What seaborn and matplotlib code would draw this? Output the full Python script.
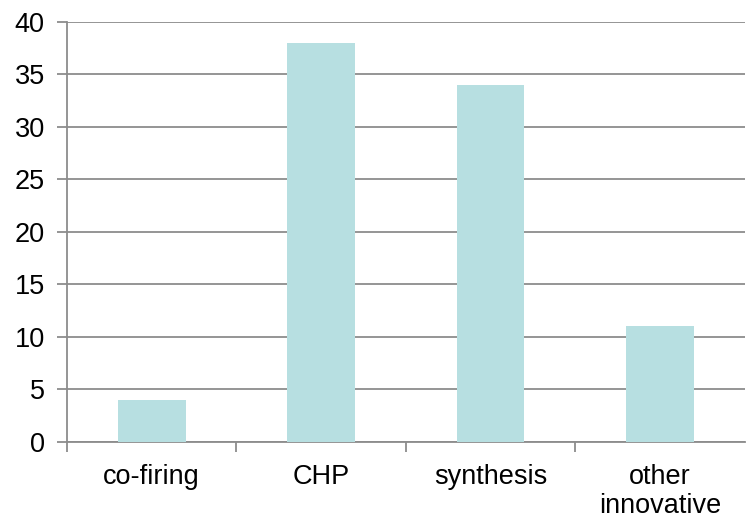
import matplotlib
matplotlib.use('Agg')
import matplotlib.pyplot as plt
import seaborn as sns
import pandas as pd
import numpy as np

# chart data
categories = ['co-firing', 'CHP', 'synthesis', 'other\ninnovative']
values = [4, 38, 34, 11]

df = pd.DataFrame({'category': categories, 'value': values})

sns.set_theme(style='white')
plt.rcParams['font.family'] = ['Liberation Sans', 'DejaVu Sans']

fig = plt.figure(figsize=(7.47, 5.2), dpi=100)
ax = fig.add_axes([0.0897, 0.15, 0.907, 0.8077])

sns.barplot(data=df, x='category', y='value', color='#B7DFE1', saturation=1,
            width=0.4, linewidth=0, ax=ax, zorder=3)

grid_color = '#8C8C8C'
ax.set_ylim(0, 40)
ax.set_xlim(-0.5, len(categories) - 0.5)
ax.set_yticks(np.arange(0, 41, 5))
ax.yaxis.grid(True, color=grid_color, linewidth=1.3, zorder=0)
ax.set_axisbelow(True)

# category boundary ticks on x axis
ax.set_xticks(np.arange(-0.5, len(categories) - 0.5, 1.0), minor=True)
ax.tick_params(axis='x', which='major', length=0, pad=16, labelsize=19.5, labelcolor='black')
ax.tick_params(axis='x', which='minor', length=7, width=1.3, color=grid_color, direction='out', bottom=True)
ax.tick_params(axis='y', length=7, width=1.3, color=grid_color, direction='out', left=True,
               labelsize=19.5, pad=9, labelcolor='black')
for lbl in ax.get_xticklabels():
    lbl.set_linespacing(1.15)

for side in ['top', 'right']:
    ax.spines[side].set_visible(False)
for side in ['left', 'bottom']:
    ax.spines[side].set_color(grid_color)
    ax.spines[side].set_linewidth(1.3)

ax.set_xlabel('')
ax.set_ylabel('')

fig.savefig('out.png', dpi=100)
